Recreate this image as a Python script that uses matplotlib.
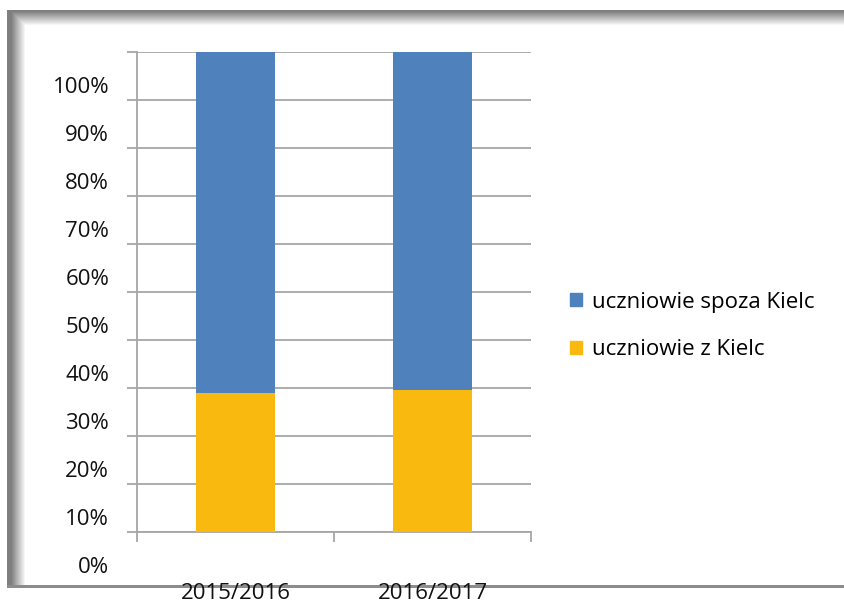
import numpy as np
import matplotlib
matplotlib.use('Agg')
import matplotlib.pyplot as plt
import matplotlib.transforms as mtransforms
from matplotlib.patches import Patch

plt.rcParams['font.family'] = ['Open Sans', 'DejaVu Sans']

# data (share of students, %)
years = ['2015/2016', '2016/2017']
z_kielc = [29.0, 29.6]
spoza_kielc = [71.0, 70.4]
y_ticks = [0, 10, 20, 30, 40, 50, 60, 70, 80, 90, 100]
y_labels = ['0%', '10%', '20%', '30%', '40%', '50%', '60%', '70%', '80%', '90%', '100%']

blue = '#4F81BD'
gold = '#F9B90F'
grid_gray = '#A6A6A6'
txt = '#111111'

W, H = 844, 606
fig = plt.figure(figsize=(W / 100, H / 100), dpi=100)

# background frame with shaded left / top edge (screenshot look)
bg = fig.add_axes([0, 0, 1, 1], zorder=-5)
xx, yy = np.meshgrid(np.arange(W), np.arange(H))
inside = (xx >= 7) & (yy >= 10) & (yy <= 587)
left = np.clip((25 - xx) / 14.0, 0, 1) * 0.5
top = np.clip((25 - yy) / 14.0, 0, 1) * 0.5
dark = np.where(inside, np.maximum(left, top), 0)
dark[(yy >= 585) & (yy <= 587) & (xx >= 7)] = 0.45
img = np.dstack([1 - dark] * 3)
bg.imshow(img, extent=(0, W, H, 0), aspect='auto', interpolation='bilinear')
bg.set_xlim(0, W)
bg.set_ylim(H, 0)
bg.axis('off')

ax = fig.add_axes([137 / W, (H - 532) / H, (531 - 137) / W, (532 - 52) / H])
x = np.arange(len(years)) + 0.5
ax.bar(x, z_kielc, width=0.4, color=gold, zorder=3, label='uczniowie z Kielc')
ax.bar(x, spoza_kielc, width=0.4, bottom=z_kielc, color=blue, zorder=3,
       label='uczniowie spoza Kielc')

ax.set_xlim(0, 2)
ax.set_ylim(0, 100)
ax.set_yticks(y_ticks)
ax.set_yticklabels(y_labels, fontsize=16, color=txt)
ax.yaxis.grid(True, color=grid_gray, linewidth=1.3, zorder=0)
ax.set_xticks([0, 1, 2])
ax.set_xticklabels([])
ax.set_xticks(x, minor=True)
ax.set_xticklabels(years, minor=True, fontsize=16, color=txt)
ax.tick_params(axis='x', which='major', direction='out', length=7, width=1.3, color=grid_gray)
ax.tick_params(axis='x', which='minor', length=0, pad=37)
ax.tick_params(axis='y', direction='out', length=7, width=1.3, color=grid_gray, pad=13)

# y labels sit lower than their gridlines in the original
shift = mtransforms.ScaledTranslation(0, -33 / 100, fig.dpi_scale_trans)
for lab in ax.get_yticklabels():
    lab.set_transform(lab.get_transform() + shift)

for s in ['top', 'right']:
    ax.spines[s].set_visible(False)
for s in ['left', 'bottom']:
    ax.spines[s].set_color(grid_gray)
    ax.spines[s].set_linewidth(1.3)
ax.set_facecolor('none')

handles = [Patch(color=blue), Patch(color=gold)]
fig.legend(handles, ['uczniowie spoza Kielc', 'uczniowie z Kielc'],
           loc='center left', bbox_to_anchor=(570 / W, (H - 326) / H),
           frameon=False, fontsize=16, handlelength=0.55, handleheight=0.55,
           handletextpad=0.45, labelspacing=1.2, borderpad=0, borderaxespad=0)

fig.savefig('out.png', dpi=100)
